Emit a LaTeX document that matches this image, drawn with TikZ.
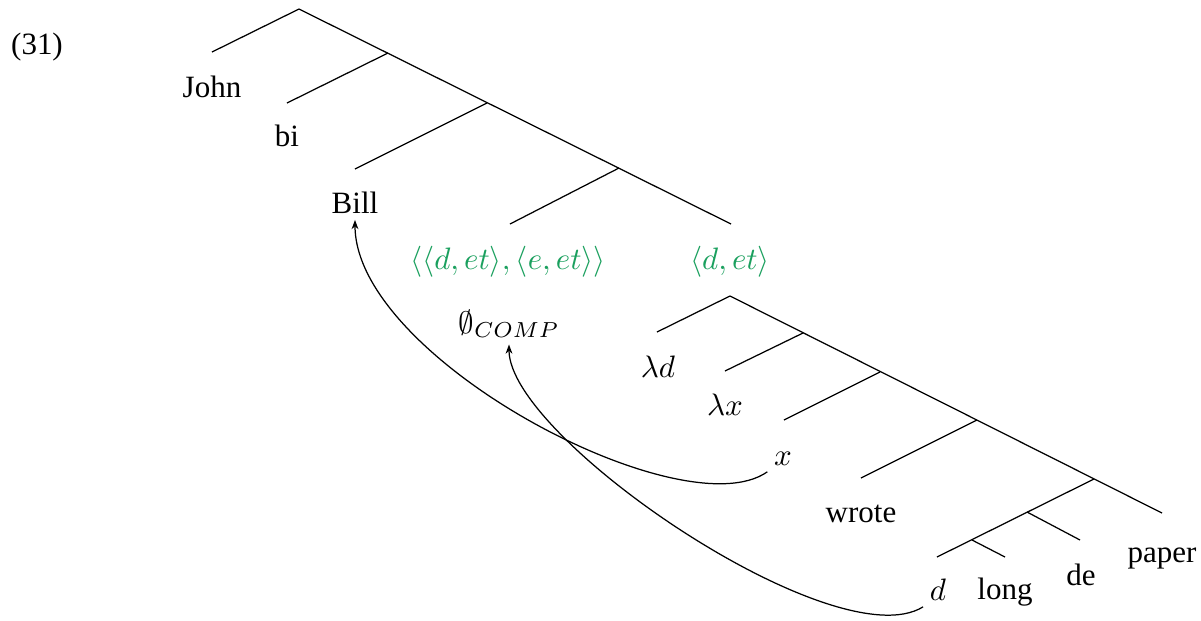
\documentclass[tikz,border=0pt]{standalone}
\usepackage{fontspec}
\setmainfont{Liberation Serif}
\usetikzlibrary{arrows.meta}
\definecolor{typegreen}{HTML}{1AA05E}
\tikzset{
	leaf/.style={anchor=base, inner sep=2pt},
	typelabel/.style={leaf, text=typegreen},
	branch/.style={line width=0.4pt},
	movearrow/.style={-{Stealth[length=3pt,width=2.2pt]}, line width=0.4pt},
}

\begin{document}
\begin{tikzpicture}[x=0.3226pt,y=-0.3226pt]
	% Fixed white canvas, one unit per pixel of the target.
	\path[use as bounding box] (0,0) rectangle (1201,620);
	\fill[white] (0,0) rectangle (1201,620);

	% Example number.
	\node[leaf] (exnum) at (37,54) {(31)};

	% Upper tree: branching points and edge ends.
	\coordinate (r1) at (299,9);
	\coordinate (jE) at (212,52);
	\coordinate (n2) at (388,53);
	\coordinate (biE) at (287,103);
	\coordinate (n3) at (487,103);
	\coordinate (billE) at (355,169);
	\coordinate (n4) at (619,168);
	\coordinate (tlE) at (510,224);
	\coordinate (trE) at (731,224);

	% Lower tree (the lambda abstract), including the degree phrase.
	\coordinate (r2) at (730,296);
	\coordinate (ldE) at (657,332);
	\coordinate (m2) at (803,333);
	\coordinate (lxE) at (725,371);
	\coordinate (m3) at (880,372);
	\coordinate (xE) at (784,420);
	\coordinate (m4) at (977,420);
	\coordinate (wE) at (861,478);
	\coordinate (m5) at (1094,479);
	\coordinate (pE) at (1162,513);
	\coordinate (k1) at (1027,512);
	\coordinate (deE) at (1080,540);
	\coordinate (k2) at (972,540);
	\coordinate (loE) at (1005,557);
	\coordinate (dE) at (937,557);

	% Branches.
	\foreach \a/\b in {r1/jE, r1/trE, n2/biE, n3/billE, n4/tlE,
		r2/ldE, r2/pE, m2/lxE, m3/xE, m4/wE, m5/dE, k1/deE, k2/loE} {
		\draw[branch] (\a) -- (\b);
	}

	% Leaves and type labels.
	\node[leaf] (john) at (212,97) {John};
	\node[leaf] (bi) at (287,146) {bi};
	\node[leaf] (bill) at (355,213) {Bill};
	\node[typelabel] (typeL) at (508,269) {$\langle\langle d,et\rangle,\langle e,et\rangle\rangle$};
	\node[typelabel] (typeR) at (730,269) {$\langle d,et\rangle$};
	\node[leaf] (comp) at (509,333) {$\emptyset_{COMP}$};
	\node[leaf] (lamd) at (658,377) {$\lambda d$};
	\node[leaf] (lamx) at (725,415) {$\lambda x$};
	\node[leaf] (varx) at (783,465) {$x$};
	\node[leaf] (wrote) at (861,522) {wrote};
	\node[leaf] (vard) at (938,600) {$d$};
	\node[leaf] (long) at (1005,599) {long};
	\node[leaf] (de) at (1081,585) {de};
	\node[leaf] (paper) at (1162,562) {paper};

	% Movement arrows.
	\draw[movearrow] (varx.south west) .. controls +(-84,59) and +(0,139) .. (bill.south);
	\draw[movearrow] (vard.south west) .. controls +(-87,54) and +(0,94) .. (comp.south);
\end{tikzpicture}
\end{document}
